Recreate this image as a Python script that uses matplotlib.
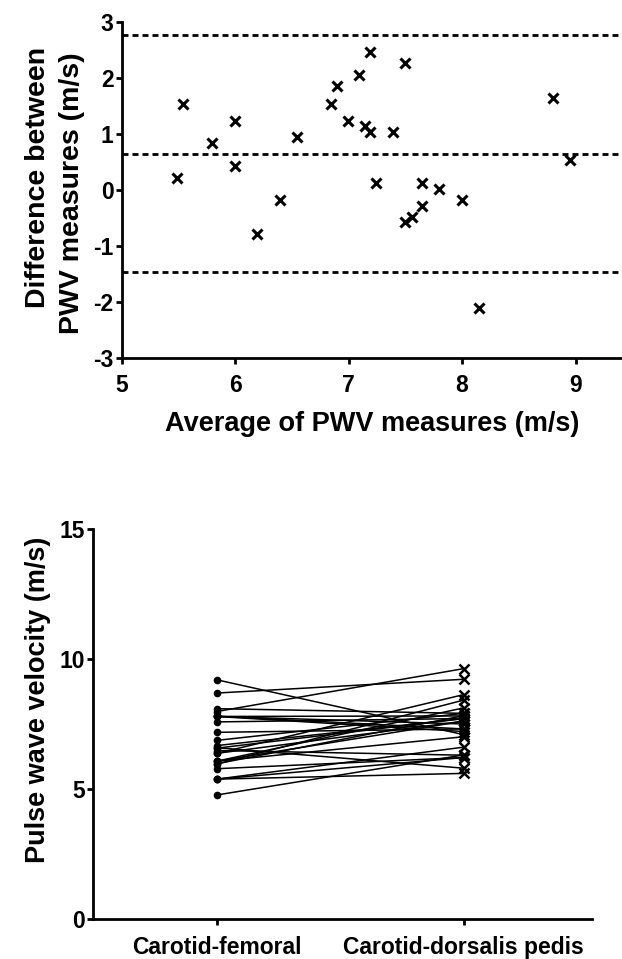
import matplotlib
matplotlib.use('Agg')
import matplotlib.pyplot as plt
import numpy as np

# ============================================
# DATA - paired PWV measures (m/s), one pair per subject
# ============================================

pwv_cf  = [4.77, 5.38, 5.38, 5.38, 5.78, 6.59, 6.48, 6.07, 6.07, 5.97,
           6.37, 6.07, 6.57, 5.96, 6.67, 7.18, 6.37, 6.87, 7.58, 7.79,
           7.79, 7.80, 7.79, 8.09, 9.20, 7.98, 8.69]
pwv_cdp = [6.31, 5.60, 6.21, 6.61, 6.21, 5.80, 6.30, 7.01, 7.61, 7.82,
           7.61, 8.12, 7.71, 8.42, 7.71, 7.31, 8.63, 7.91, 7.71, 7.81,
           7.50, 7.31, 7.21, 7.91, 7.09, 9.63, 9.22]

site_labels = ['Carotid-femoral', 'Carotid-dorsalis pedis']

# bias and limits of agreement as drawn (upper, mean, lower)
agreement_lines = [2.76, 0.64, -1.47]

# ============================================
# STYLE
# ============================================

plt.rcParams['font.family'] = ['Liberation Sans', 'DejaVu Sans']
plt.rcParams['font.weight'] = 'bold'
plt.rcParams['lines.scale_dashes'] = False
plt.rcParams['axes.unicode_minus'] = False   # plain hyphen like the original

LABEL_FS = 19.5
TICK_FS  = 16.5

def style_axes(ax):
    for side in ['top', 'right']:
        ax.spines[side].set_visible(False)
    for side in ['left', 'bottom']:
        ax.spines[side].set_linewidth(2.0)
    ax.tick_params(direction='out', length=4, width=2.0, labelsize=TICK_FS)
    ax.tick_params(axis='x', pad=8)
    ax.tick_params(axis='y', pad=2)
    for lab in ax.get_xticklabels() + ax.get_yticklabels():
        lab.set_fontweight('bold')

cf  = np.array(pwv_cf)
cdp = np.array(pwv_cdp)
avg  = (cf + cdp) / 2
diff = cdp - cf

fig = plt.figure(figsize=(6.22, 9.59), dpi=100)

# ---- Bland-Altman plot ----
ax1 = fig.add_axes([0.196, 0.627, 0.804, 0.350])
for yv in agreement_lines:
    ax1.axhline(yv, color='black', lw=2.0, linestyle=(0, (4.3, 2.9)), zorder=1)
ax1.plot(avg, diff, linestyle='none', marker='x', color='black',
         markersize=6.5, mew=2.2, zorder=3)
ax1.set_xlim(5, 9.41)
ax1.set_ylim(-3, 3)
ax1.set_xticks([5, 6, 7, 8, 9])
ax1.set_yticks([-3, -2, -1, 0, 1, 2, 3])
style_axes(ax1)
ax1.set_xlabel('Average of PWV measures (m/s)', fontsize=LABEL_FS,
               fontweight='bold', labelpad=10)
# two-line y label, lines placed as in the original
ax1.text(-0.168, 0.536, 'Difference between', transform=ax1.transAxes,
         rotation=90, ha='center', va='center', fontsize=20.5,
         fontweight='bold')
ax1.text(-0.100, 0.491, 'PWV measures (m/s)', transform=ax1.transAxes,
         rotation=90, ha='center', va='center', fontsize=20.5,
         fontweight='bold')

# ---- paired plot ----
ax2 = fig.add_axes([0.150, 0.0417, 0.802, 0.4067])
for a, b in zip(pwv_cf, pwv_cdp):
    ax2.plot([0, 1], [a, b], color='black', lw=1.1, zorder=2)
ax2.plot(np.zeros(len(pwv_cf)), pwv_cf, linestyle='none', marker='o',
         color='black', markersize=4.5, zorder=3)
ax2.plot(np.ones(len(pwv_cdp)), pwv_cdp, linestyle='none', marker='x',
         color='black', markersize=6.5, mew=1.8, zorder=3)
ax2.set_xlim(-0.5, 1.52)
ax2.set_ylim(0, 15)
ax2.set_yticks([0, 5, 10, 15])
ax2.set_xticks([0, 1])
ax2.set_xticklabels(site_labels)
style_axes(ax2)
ax2.text(-0.110, 0.562, 'Pulse wave velocity (m/s)', transform=ax2.transAxes,
         rotation=90, ha='center', va='center', fontsize=LABEL_FS,
         fontweight='bold')

plt.savefig('out.png', dpi=100)
plt.close()
